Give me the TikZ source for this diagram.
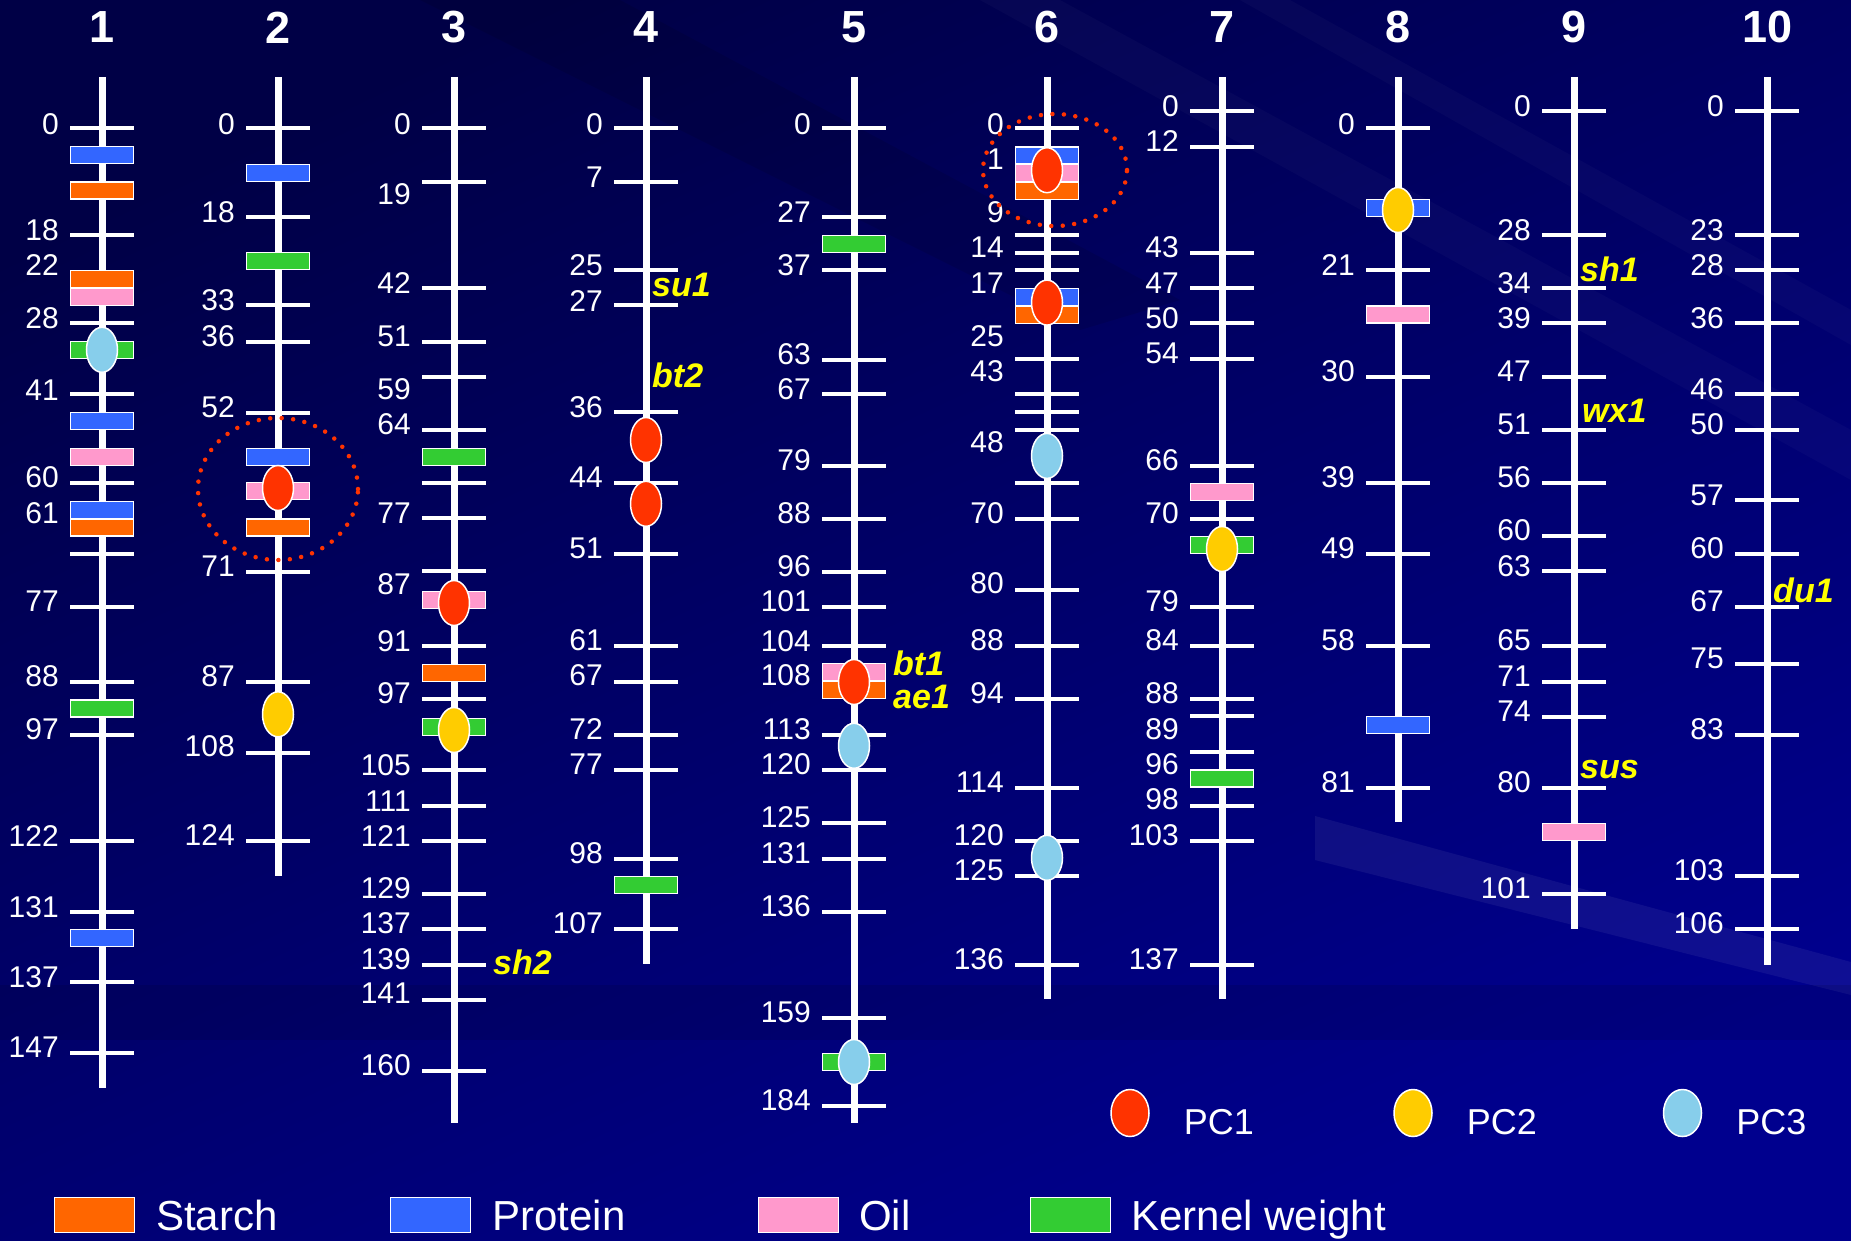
\documentclass[tikz,border=0pt]{standalone}
\usepackage{fontspec}
\setmainfont{Liberation Sans}
\usepackage{xcolor}
\usepackage{tikz}
\usetikzlibrary{positioning,shapes.geometric}
\definecolor{bgtop}{RGB}{0,0,70}
\definecolor{bgbot}{RGB}{0,0,142}
\definecolor{starch}{RGB}{255,102,0}
\definecolor{protein}{RGB}{51,102,255}
\definecolor{oil}{RGB}{255,153,204}
\definecolor{kernel}{RGB}{51,204,51}
\definecolor{pcone}{RGB}{255,51,0}
\definecolor{pctwo}{RGB}{255,204,0}
\definecolor{pcthree}{RGB}{135,206,235}
\definecolor{genecol}{RGB}{255,255,0}
\tikzset{
  axisline/.style={white, line width=7pt},
  tickline/.style={white, line width=4pt},
  chrnum/.style={text=white, inner sep=0pt, font=\fontsize{45}{47}\selectfont\bfseries},
  cmlabel/.style={anchor=east, text=white, inner sep=0pt, font=\fontsize{30}{32}\selectfont},
  genelabel/.style={anchor=west, text=genecol, inner sep=0pt, font=\fontsize{34}{36}\selectfont\bfseries\itshape},
  qtlbar/.style={rectangle, draw=white, line width=1.2pt, minimum width=63pt, minimum height=17pt, inner sep=0pt},
  pcdot/.style={ellipse, draw=white, line width=1.5pt, minimum width=31pt, minimum height=45pt, inner sep=0pt},
  hotspot/.style={draw=pcone, line width=4.5pt, line cap=round, dash pattern=on 0pt off 11.5pt},
  keybox/.style={rectangle, draw=white, line width=1.2pt, minimum width=80pt, minimum height=35pt, inner sep=0pt},
  keytext/.style={text=white, inner sep=0pt, font=\fontsize{42}{44}\selectfont, text height=30pt, text depth=0pt},
  pctext/.style={text=white, inner sep=0pt, font=\fontsize{36}{38}\selectfont, text height=26pt, text depth=0pt}
}
% #1 chromosome, #2 x, #3 bottom end, #4 tick positions
\newcommand{\chromaxis}[4]{%
  \node[chrnum] (chr#1) at (#2,27.5) {#1};
  \draw[axisline] (#2,77) -- (#2,#3);
  \foreach \t in {#4} \draw[tickline] (#2-32,\t) -- (#2+32,\t);
}
% #1 chromosome, #2 x, #3 list y/cM
\newcommand{\cmlabels}[3]{%
  \foreach \y/\v in {#3} \node[cmlabel] (c#1cm\v) at (#2-43,\y) {\v};
}
% #1 chromosome, #2 x, #3 list y/trait colour
\newcommand{\qtlbars}[3]{%
  \foreach \y/\c [count=\i] in {#3} \node[qtlbar, fill=\c] (c#1bar\i) at (#2,\y) {};
}

\begin{document}
\begin{tikzpicture}[x=1pt, y=-1pt]
  \useasboundingbox (0,0) rectangle (1851,1241);
  % background
  \shade[top color=bgtop, bottom color=bgbot, shading angle=25] (0,0) rectangle (1851,1241);
  \fill[white, opacity=0.025] (980,0) -- (1060,0) -- (1851,430) -- (1851,480) -- cycle;
  \fill[white, opacity=0.025] (1240,0) -- (1290,0) -- (1851,310) -- (1851,345) -- cycle;
  \fill[black, opacity=0.10] (420,0) -- (620,0) -- (1180,300) -- (1080,330) -- cycle;
  \fill[white, opacity=0.06] (1315,816) -- (1851,962) -- (1851,995) -- (1315,860) -- cycle;
  \fill[black, opacity=0.10] (0,985) rectangle (1851,1040);

  % chromosome 1
  \chromaxis{1}{102}{1088}{128.5,235,323.4,394,482.6,554,607,681.7,734.8,841,911.6,982.3,1053}
  \cmlabels{1}{102}{123.8/0,230/18,265/22,318/28,390/41,477.5/60,513/61,601/77,675.8/88,729/97,836/122,907/131,977/137,1047.6/147}
  \qtlbars{1}{102}{155.2/protein,190.6/starch,279/starch,296.7/oil,349.8/kernel,421.3/protein,456.7/oil,509.7/protein,527.4/starch,708.4/kernel,938.3/protein}
  \node[pcdot, fill=pcthree] (c1pc) at (102,349.8) {};

  % chromosome 2
  \chromaxis{2}{278}{875.5}{128.5,217.3,305.4,341.9,412.7,571.8,681.7,752.8,841}
  \cmlabels{2}{278}{123.8/0,212/18,300.6/33,336/36,406.8/52,566/71,675.8/87,746.5/108,835.4/124}
  \qtlbars{2}{278}{173/protein,261.3/kernel,456.7/protein,491.3/oil,527.4/starch}
  \node[pcdot, fill=pcone] (c2pca) at (278,488) {};
  \node[pcdot, fill=pctwo] (c2pcb) at (278,714.3) {};
  \draw[hotspot] (278,489) ellipse [x radius=80pt, y radius=71pt];

  % chromosome 3
  \chromaxis{3}{454}{1123}{128.5,182,288,342,376.5,429.5,482.6,518,571,646.3,699.4,770,805.5,841.3,894,929.3,964.7,1000,1070.8}
  \cmlabels{3}{454}{123.8/0,194.5/19,283/42,336/51,389/59,424.4/64,512.9/77,584.4/87,641.6/91,692.7/97,765.4/105,800.8/111,836/121,888/129,923.4/137,958.8/139,993.4/141,1064.9/160}
  \qtlbars{3}{454}{456.7/kernel,600/oil,673/starch,727/kernel}
  \node[pcdot, fill=pcone] (c3pca) at (454,603) {};
  \node[pcdot, fill=pctwo] (c3pcb) at (454,730) {};
  \node[genelabel] (sh2) at (493,962.7) {sh2};

  % chromosome 4
  \chromaxis{4}{646}{964}{128.5,182,270.4,305.4,411.9,483.4,554,646.3,681.7,734.8,770,858.6,929.3}
  \cmlabels{4}{646}{123.8/0,176.9/7,265.3/25,300.6/27,406.8/36,477.5/44,548.2/51,639.7/61,675/67,728.9/72,764.2/77,852.7/98,923.4/107}
  \qtlbars{4}{646}{885.3/kernel}
  \node[pcdot, fill=pcone] (c4pca) at (646,440) {};
  \node[pcdot, fill=pcone] (c4pcb) at (646,503.8) {};
  \node[genelabel] (su1) at (652,285) {su1};
  \node[genelabel] (bt2) at (652,375.3) {bt2};

  % chromosome 5
  \chromaxis{5}{854}{1123}{128.5,217.3,270.4,359.6,394.2,465.7,518.8,571.8,607.2,646.3,734.8,770,823.2,858.6,911.6,1017.7,1106.1}
  \cmlabels{5}{854}{123.8/0,212.2/27,265.3/37,353.7/63,389/67,459.8/79,512.9/88,566/96,601.3/101,641.6/104,675/108,728.9/113,764.2/120,817.3/125,852.7/131,905.7/136,1011.8/159,1100.2/184}
  \qtlbars{5}{854}{243.7/kernel,672.3/oil,690/starch,1062/kernel}
  \node[pcdot, fill=pcone] (c5pca) at (854,682) {};
  \node[pcdot, fill=pcthree] (c5pcb) at (854,745.8) {};
  \node[pcdot, fill=pcthree] (c5pcc) at (854,1062) {};
  \node[genelabel] (bt1) at (893,663.2) {bt1};
  \node[genelabel] (ae1) at (893,696.6) {ae1};

  % chromosome 6
  \chromaxis{6}{1047}{999}{128.5,235,253.5,270.4,358.8,394.2,411.9,429.5,483.4,518.8,589.5,646.3,699.4,787.8,840.9,876.2,964.7}
  \cmlabels{6}{1047}{123.8/0,159.2/1,212.2/9,247.6/14,283/17,336/25,371.4/43,442/48,512.9/70,583.6/80,640.4/88,693.5/94,781.9/114,835/120,870.3/125,958.8/136}
  \qtlbars{6}{1047}{155.5/protein,173.2/oil,190.9/starch,297/protein,314.7/starch}
  \node[pcdot, fill=pcone] (c6pca) at (1047,170.2) {};
  \node[pcdot, fill=pcone] (c6pcb) at (1047,302.6) {};
  \node[pcdot, fill=pcthree] (c6pcc) at (1047,455.9) {};
  \node[pcdot, fill=pcthree] (c6pcd) at (1047,857.8) {};
  \draw[hotspot] (1055,170) ellipse [x radius=72pt, y radius=56pt];

  % chromosome 7
  \chromaxis{7}{1222}{999}{111.2,146.6,253.5,288,323.4,358.8,465.7,518.8,607.2,646.3,699.4,716.3,752.4,805.5,840.9,964.7}
  \cmlabels{7}{1222}{106.1/0,141.5/12,247.6/43,283/47,318.3/50,353.7/54,459.8/66,512.9/70,601.3/79,640.4/84,693.5/88,728.9/89,764.2/96,799.6/98,835/103,958.8/137}
  \qtlbars{7}{1222}{492/oil,545/kernel,778.4/kernel}
  \node[pcdot, fill=pctwo] (c7pc) at (1222,549) {};

  % chromosome 8
  \chromaxis{8}{1398}{822.4}{128.5,270.4,376.5,482.6,554,646.3,787.8}
  \cmlabels{8}{1398}{123.8/0,265.3/21,371.4/30,477.5/39,548.2/49,640.4/58,781.9/81}
  \qtlbars{8}{1398}{208.3/protein,314.4/oil,725.3/protein}
  \node[pcdot, fill=pctwo] (c8pc) at (1398,210) {};

  % chromosome 9
  \chromaxis{9}{1574}{928.5}{111.2,235,288,323.4,376.5,429.5,482.6,535.7,571,646.3,681.7,717,787.8,894}
  \cmlabels{9}{1574}{106.1/0,230/28,283/34,318.3/39,371.4/47,424.4/51,477.5/56,530.6/60,566/63,640.4/65,675.8/71,711.2/74,781.9/80,888/101}
  \qtlbars{9}{1574}{832.2/oil}
  \node[genelabel] (sh1) at (1580,269.2) {sh1};
  \node[genelabel] (wx1) at (1582,410.7) {wx1};
  \node[genelabel] (sus) at (1580,769.3) {sus};

  % chromosome 10
  \chromaxis{10}{1767}{964.7}{111.2,235,270.4,323.4,394.2,429.5,500.3,554,607.2,664,734.8,876.2,929.3}
  \cmlabels{10}{1767}{106.1/0,230/23,265.3/28,318.3/36,389/46,424.4/50,495.2/57,548.2/60,601.3/67,658.1/75,728.9/83,870.3/103,923.4/106}
  \node[genelabel] (du1) at (1773,590) {du1};

  % legend
  \node[pcdot, minimum width=38pt, minimum height=47pt, fill=pcone] (pconekey) at (1130,1113) {};
  \node[pctext, right=34pt of pconekey, yshift=-8pt] (pconetxt) {PC1};
  \node[pcdot, minimum width=38pt, minimum height=47pt, fill=pctwo] (pctwokey) at (1413,1113) {};
  \node[pctext, right=34pt of pctwokey, yshift=-8pt] (pctwotxt) {PC2};
  \node[pcdot, minimum width=38pt, minimum height=47pt, fill=pcthree] (pcthreekey) at (1682.5,1113) {};
  \node[pctext, right=34pt of pcthreekey, yshift=-8pt] (pcthreetxt) {PC3};

  \node[keybox, fill=starch] (starchkey) at (94.5,1215) {};
  \node[keytext, right=21pt of starchkey] (starchtxt) {Starch};
  \node[keybox, fill=protein] (proteinkey) at (430.5,1215) {};
  \node[keytext, right=21pt of proteinkey] (proteintxt) {Protein};
  \node[keybox, fill=oil] (oilkey) at (798.5,1215) {};
  \node[keytext, right=20pt of oilkey] (oiltxt) {Oil};
  \node[keybox, fill=kernel] (kernelkey) at (1070.5,1215) {};
  \node[keytext, right=20pt of kernelkey] (kerneltxt) {Kernel weight};
\end{tikzpicture}
\end{document}
